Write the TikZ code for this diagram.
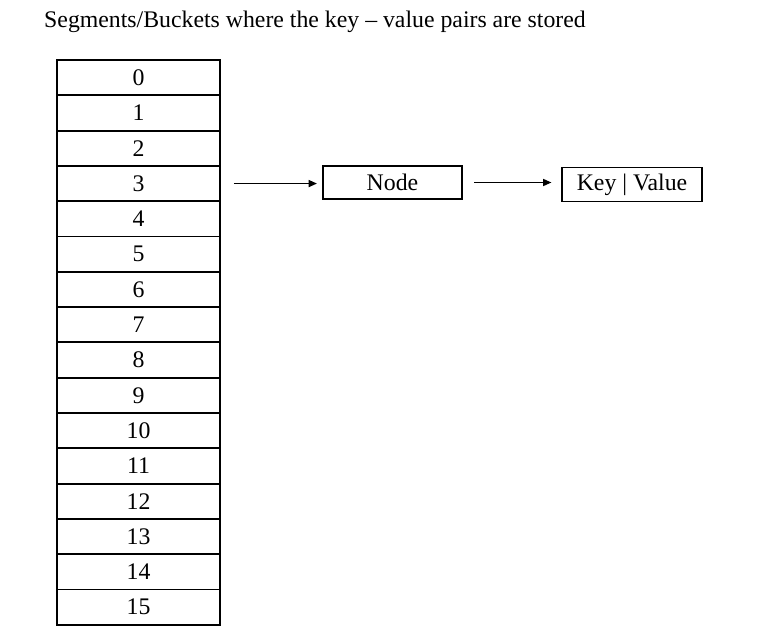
\documentclass[tikz,border=0pt]{standalone}
\usepackage{fontspec}
\setmainfont{Liberation Serif}
\usetikzlibrary{arrows.meta,positioning}

\begin{document}
\begin{tikzpicture}[x=0.03cm,y=-0.03cm,
  cell/.style={rectangle,draw=black,line width=1.6pt,minimum width=4.89cm,
               minimum height=1.06cm,inner sep=0pt,font=\fontsize{20.3}{24}\selectfont},
  box/.style={rectangle,draw=black,line width=1.6pt,minimum width=4.18cm,
              minimum height=1cm,inner sep=0pt,font=\fontsize{20.3}{24}\selectfont},
  link/.style={-{Triangle[length=7pt,width=6pt]},line width=1.1pt,black},
  ttl/.style={font=\fontsize{20.3}{24}\selectfont,inner sep=0pt,anchor=west}
]
\useasboundingbox (0,0) rectangle (757,641);
\node[ttl] (title) at (44,22) {Segments/Buckets where the key -- value pairs are stored};
% bucket table
\node[cell] (r0) at (138.5,77.65) {0};
\node[cell] (r1) at (138.5,112.95) {1};
\node[cell] (r2) at (138.5,148.25) {2};
\node[cell] (r3) at (138.5,183.55) {3};
\node[cell] (r4) at (138.5,218.85) {4};
\node[cell] (r5) at (138.5,254.15) {5};
\node[cell] (r6) at (138.5,289.45) {6};
\node[cell] (r7) at (138.5,324.75) {7};
\node[cell] (r8) at (138.5,360.05) {8};
\node[cell] (r9) at (138.5,395.35) {9};
\node[cell] (r10) at (138.5,430.65) {10};
\node[cell] (r11) at (138.5,465.95) {11};
\node[cell] (r12) at (138.5,501.25) {12};
\node[cell] (r13) at (138.5,536.55) {13};
\node[cell] (r14) at (138.5,571.85) {14};
\node[cell] (r15) at (138.5,607.15) {15};
% chain
\node[box] (nd) at (392.5,182.5) {Node};
\node[box,minimum height=1.02cm] (kv) at (632,184.5) {Key | Value};
\draw[link,shorten <=0.39cm,shorten >=0.15cm] (r3.east) -- (r3.east -| nd.west);
\draw[link,shorten <=0.33cm,shorten >=0.3cm] (nd.east) -- (nd.east -| kv.west);
\end{tikzpicture}
\end{document}
